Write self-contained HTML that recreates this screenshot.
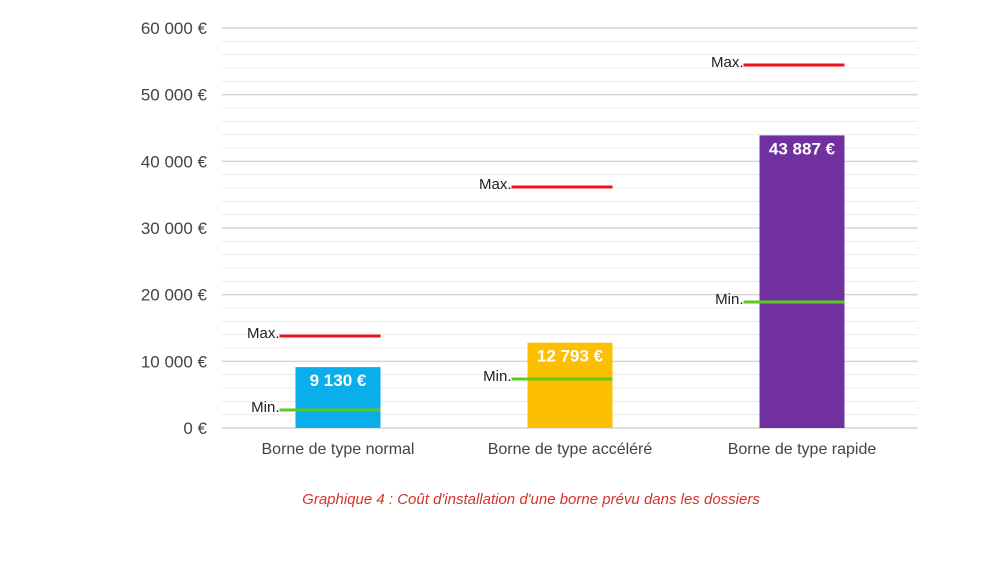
<!DOCTYPE html>
<html><head><meta charset="utf-8"><style>
body{margin:0;background:#fff;width:1000px;height:562px;overflow:hidden;font-family:"Liberation Sans",sans-serif}
</style></head><body>
<svg width="1000" height="562">
<g id="grid"></g><g id="marks"></g>
<text x="531" y="504" text-anchor="middle" font-size="15" font-style="italic" fill="#d9322b">Graphique 4 : Coût d'installation d'une borne prévu dans les dossiers</text>
</svg>
<script>
const categories=["Borne de type normal","Borne de type accéléré","Borne de type rapide"];
const averages=[9130,12793,43887];
const minima=[2700,7350,18900];
const maxima=[13800,36150,54450];
const valueLabels=["9 130 €","12 793 €","43 887 €"];
const colors=["#0aaeea","#fcc000","#7030a0"];
const yTicks=[0,10000,20000,30000,40000,50000,60000];
const yTickLabels=["0 €","10 000 €","20 000 €","30 000 €","40 000 €","50 000 €","60 000 €"];
const NS="http://www.w3.org/2000/svg";
const x0=222,x1=918,yB=428,yT=28,ymax=60000;
const y=v=>yB-(v/ymax)*(yB-yT);
const band=(x1-x0)/categories.length;
const xc=i=>x0+band*(i+0.5);
function mk(t,a,p){const e=document.createElementNS(NS,t);for(const k in a)e.setAttribute(k,a[k]);p.appendChild(e);return e;}
const g=document.getElementById('grid'),m=document.getElementById('marks');
for(let v=0;v<=ymax;v+=2000){
 const major=v%10000===0;
 const l=mk('line',{x1:x0,x2:x1,y1:y(v),y2:y(v),stroke:major?'#d6d6d6':'#ececec','stroke-width':major?1.5:1},g);
 
 
}
yTicks.forEach((v,i)=>{
 const t=mk('text',{x:207,y:y(v)+6,'text-anchor':'end','font-size':17,fill:'#444'},g);
 t.textContent=yTickLabels[i];
 
 
});
const bw=85;
categories.forEach((c,i)=>{
 const cx=xc(i);
 const r=mk('rect',{x:cx-bw/2,y:y(averages[i]),width:bw,height:yB-y(averages[i]),fill:colors[i]},m);
 
 
 const vl=mk('text',{x:cx,y:y(averages[i])+19,'text-anchor':'middle','font-size':17,'font-weight':'bold',fill:'#fff'},m);
 vl.textContent=valueLabels[i];
 
 
 [[minima[i],'#5cc91e','Min.','min-line'],[maxima[i],'#e8141e','Max.','max-line']].forEach(([v,col,lab,nm])=>{
  const ln=mk('line',{x1:cx-bw/2-16,x2:cx+bw/2,y1:y(v),y2:y(v),stroke:col,'stroke-width':3},m);
  
  
  const t=mk('text',{x:cx-bw/2-16,y:y(v)+2,'text-anchor':'end','font-size':15,fill:'#222'},m);
  t.textContent=lab;
  
  
 });
 const xl=mk('text',{x:cx,y:454,'text-anchor':'middle','font-size':16,fill:'#444'},m);
 xl.textContent=c;
 
 
});
</script>
</body></html>
